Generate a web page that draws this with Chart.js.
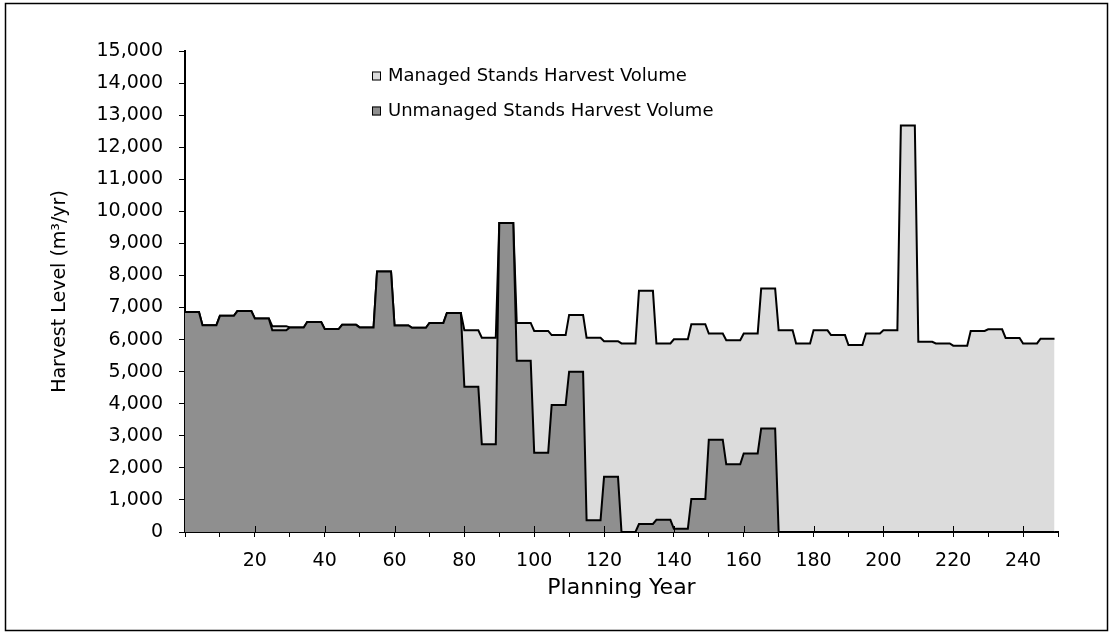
<!DOCTYPE html>
<html>
<head>
<meta charset="utf-8">
<title>Harvest Level</title>
<script src="https://cdn.jsdelivr.net/npm/chart.js"></script>
<style>
  html, body { margin: 0; padding: 0; background: #fff; }
  #wrap { position: relative; width: 1112px; height: 635px; }
</style>
</head>
<body>
<div id="wrap"><canvas id="harvestChart"></canvas></div>
<script>
// first year of each 5-year planning period
const periodStart = [
  0, 5, 10, 15, 20, 25, 30, 35, 40, 45,
  50, 55, 60, 65, 70, 75, 80, 85, 90, 95,
  100, 105, 110, 115, 120, 125, 130, 135, 140, 145,
  150, 155, 160, 165, 170, 175, 180, 185, 190, 195,
  200, 205, 210, 215, 220, 225, 230, 235, 240, 245
];
// harvest level in each period (m3/yr)
const unmanagedVolume = [
  6860, 6450, 6740, 6890, 6660, 6290, 6380, 6550, 6330, 6460,
  6380, 8120, 6440, 6370, 6520, 6830, 4530, 2740, 9640, 5340,
  2470, 3960, 5000, 370, 1720, 0, 250, 380, 100, 1030,
  2880, 2110, 2450, 3230, 0, 0, 0, 0, 0, 0,
  0, 0, 0, 0, 0, 0, 0, 0, 0, 0
];
const managedVolume = [
  0, 0, 0, 0, 0, 130, 0, 0, 0, 0,
  0, 0, 0, 0, 0, 0, 1760, 3320, 0, 1180,
  3800, 2180, 1770, 5690, 4230, 5880, 7270, 5500, 5910, 5450,
  3310, 3870, 3740, 4360, 6290, 5880, 6290, 6140, 5830, 6190,
  6290, 12680, 5930, 5880, 5810, 6270, 6320, 6050, 5880, 6030
];
const labelledYears = [20, 40, 60, 80, 100, 120, 140, 160, 180, 200, 220, 240];

// each period's level holds for its 5 years
function yearly(values) {
  const pts = [];
  periodStart.forEach((start, i) => {
    for (let y = start; y < start + 5; y++) pts.push({ x: y, y: values[i] });
  });
  return pts;
}

Chart.defaults.font.family = '"DejaVu Sans", "Liberation Sans", sans-serif';
Chart.defaults.color = '#000';

// frame round the figure, legend inside the plot, long ticks at labelled years
const figureExtras = {
  id: 'figureExtras',
  afterDraw(chart) {
    const ctx = chart.ctx;
    const xs = chart.scales.x;
    ctx.save();
    ctx.strokeStyle = '#000';
    ctx.lineWidth = 1.5;
    ctx.strokeRect(5.5, 3.5, 1102, 627);

    ctx.lineWidth = 1;
    ctx.beginPath();
    labelledYears.forEach(v => {
      const px = Math.round(xs.getPixelForValue(v)) + 0.5;
      ctx.moveTo(px, chart.chartArea.bottom);
      ctx.lineTo(px, chart.chartArea.bottom - 6);
    });
    ctx.stroke();

    ctx.font = '18px "DejaVu Sans", sans-serif';
    ctx.textBaseline = 'middle';
    const items = chart.data.datasets.slice().reverse();
    items.forEach((ds, i) => {
      const cy = 76 + i * 35;
      ctx.fillStyle = ds.backgroundColor;
      ctx.fillRect(372, cy - 4.5, 9, 9);
      ctx.strokeStyle = '#000';
      ctx.lineWidth = 1;
      ctx.strokeRect(372.5, cy - 4, 8, 8);
      ctx.fillStyle = '#000';
      ctx.fillText(ds.label, 388, cy);
    });
    ctx.restore();
  }
};

new Chart(document.getElementById('harvestChart'), {
  type: 'line',
  data: {
    datasets: [
      {
        label: 'Unmanaged Stands Harvest Volume',
        data: yearly(unmanagedVolume),
        backgroundColor: '#8f8f8f',
        borderColor: '#000',
        borderWidth: 2,
        fill: 'origin',
        pointRadius: 0,
        tension: 0
      },
      {
        label: 'Managed Stands Harvest Volume',
        data: yearly(managedVolume),
        backgroundColor: '#dcdcdc',
        borderColor: '#000',
        borderWidth: 2,
        fill: '-1',
        pointRadius: 0,
        tension: 0
      }
    ]
  },
  options: {
    responsive: true,
    maintainAspectRatio: false,
    animation: false,
    layout: { padding: { top: 51, right: 54, bottom: 0, left: 0 } },
    plugins: {
      legend: { display: false },
      tooltip: { enabled: false }
    },
    scales: {
      x: {
        type: 'linear',
        min: 0,
        max: 250,
        afterFit: s => { s.height = 103; },
        border: { color: '#000', width: 2 },
        grid: { drawOnChartArea: false, drawTicks: true, tickLength: 5, color: '#000' },
        ticks: {
          stepSize: 10,
          autoSkip: false,
          maxRotation: 0,
          padding: 13,
          font: { size: 19 },
          callback: v => labelledYears.includes(v) ? String(v) : ''
        },
        title: {
          display: true,
          text: 'Planning Year',
          font: { size: 22 },
          padding: { top: 0, bottom: 34 }
        }
      },
      y: {
        stacked: true,
        min: 0,
        max: 15000,
        afterFit: s => { s.width = 185; },
        border: { color: '#000', width: 2 },
        grid: { drawOnChartArea: false, drawTicks: true, tickLength: 6, color: '#000' },
        ticks: {
          stepSize: 1000,
          padding: 16,
          font: { size: 19 },
          callback: v => v.toLocaleString('en-US')
        },
        title: {
          display: true,
          text: 'Harvest Level (m³/yr)',
          font: { size: 19 },
          padding: { top: 49, bottom: 0 }
        }
      }
    }
  },
  plugins: [figureExtras]
});
</script>
</body>
</html>
